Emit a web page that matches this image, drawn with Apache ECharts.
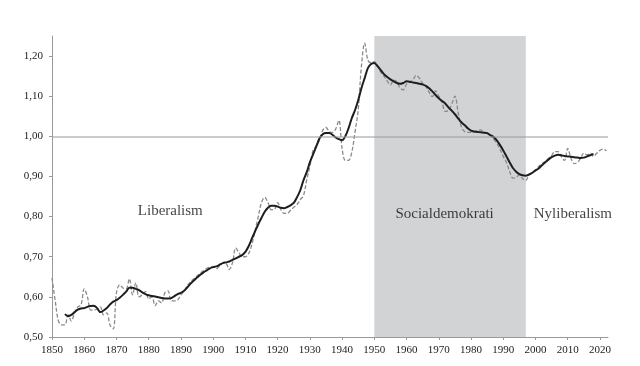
<!DOCTYPE html>
<html><head><meta charset="utf-8">
<script src="https://cdn.jsdelivr.net/npm/echarts@6/dist/echarts.min.js"></script>
<style>html,body{margin:0;padding:0;background:#fff}#c{width:640px;height:366px}</style>
</head><body><div id="c"></div>
<script>
const annualStart = 1850;
const annualValues = [
0.647,0.59,0.54,0.53,0.53,0.555,0.54,0.56,0.575,0.58,
0.62,0.60,0.567,0.567,0.57,0.575,0.555,0.56,0.53,0.52,
0.61,0.63,0.622,0.62,0.645,0.605,0.635,0.60,0.605,0.613,
0.595,0.60,0.578,0.59,0.585,0.61,0.615,0.59,0.59,0.592,
0.605,0.615,0.628,0.638,0.645,0.652,0.659,0.665,0.671,0.674,
0.675,0.67,0.677,0.684,0.683,0.668,0.685,0.722,0.71,0.70,
0.70,0.708,0.73,0.765,0.80,0.835,0.848,0.835,0.817,0.818,
0.835,0.818,0.808,0.808,0.816,0.823,0.83,0.842,0.852,0.89,
0.925,0.965,0.976,0.99,1.015,1.022,1.012,1.01,1.018,1.04,
0.97,0.94,0.94,0.96,1.01,1.066,1.175,1.232,1.19,1.183,
1.186,1.175,1.16,1.15,1.138,1.128,1.14,1.136,1.12,1.116,
1.13,1.135,1.141,1.152,1.145,1.132,1.124,1.11,1.099,1.113,
1.10,1.085,1.062,1.065,1.08,1.10,1.06,1.024,1.012,1.01,
1.01,1.012,1.014,1.016,1.01,1.008,1.002,0.993,0.983,0.968,
0.95,0.935,0.912,0.896,0.898,0.904,0.895,0.89,0.904,0.91,
0.916,0.925,0.932,0.937,0.945,0.952,0.962,0.962,0.95,0.94,
0.97,0.946,0.932,0.935,0.945,0.958,0.954,0.958,0.95,0.958,
0.965,0.968,0.964
];
const trendStart = 1854;
const trendValues = [
0.557,0.552,0.555,0.562,0.568,0.571,
0.572,0.575,0.577,0.578,0.572,0.562,0.566,0.572,0.581,0.588,
0.592,0.598,0.605,0.613,0.623,0.623,0.62,0.617,0.611,0.607,
0.604,0.602,0.601,0.599,0.597,0.596,0.596,0.597,0.602,0.607,
0.61,0.615,0.624,0.633,0.641,0.648,0.655,0.661,0.666,0.671,
0.674,0.676,0.68,0.684,0.686,0.688,0.692,0.696,0.7,0.704,
0.712,0.726,0.745,0.763,0.781,0.797,0.812,0.822,0.827,0.827,
0.825,0.822,0.821,0.824,0.828,0.834,0.848,0.865,0.89,0.91,
0.935,0.955,0.975,0.995,1.005,1.008,1.008,1.004,0.997,0.993,
0.99,1.0,1.02,1.045,1.065,1.09,1.12,1.145,1.17,1.18,
1.183,1.175,1.165,1.155,1.148,1.142,1.137,1.133,1.131,1.133,
1.137,1.136,1.134,1.133,1.131,1.129,1.126,1.12,1.112,1.103,
1.095,1.088,1.082,1.072,1.064,1.055,1.045,1.035,1.028,1.02,
1.014,1.012,1.011,1.01,1.009,1.008,1.003,0.998,0.99,0.978,
0.965,0.95,0.935,0.921,0.912,0.906,0.903,0.902,0.905,0.909,
0.915,0.92,0.928,0.935,0.942,0.948,0.952,0.954,0.953,0.951,
0.95,0.949,0.948,0.947,0.946,0.947,0.95,0.953,0.956
];
const eraNames = ['Liberalism', 'Socialdemokrati', 'Nyliberalism'];
const eraLabelAt = [[1886.7, 0.814], [1971.8, 0.807], [2011.6, 0.807]];
const shadedFrom = 1950, shadedTo = 1997;
const referenceLevel = 1.0;

const annualData = annualValues.map((v, i) => [annualStart + i, v]);
const trendData = trendValues.map((v, i) => [trendStart + i, v]);

const serif = 'Liberation Serif';
const chart = echarts.init(document.getElementById('c'), null, {renderer: 'canvas'});
chart.setOption({
  animation: false,
  backgroundColor: '#fff',
  grid: {left: 52, right: 32, top: 36, bottom: 29},
  xAxis: {
    type: 'value', min: 1850, max: 2022.5, interval: 10,
    axisLine: {lineStyle: {color: '#999', width: 1}},
    axisTick: {show: true, length: 3, lineStyle: {color: '#999'}},
    splitLine: {show: false},
    axisLabel: {
      fontFamily: serif, fontSize: 11, color: '#222', margin: 8,
      showMaxLabel: false,
      formatter: v => (v % 10 === 0 ? String(v) : '')
    }
  },
  yAxis: {
    type: 'value', min: 0.5, max: 1.25, interval: 0.1,
    axisLine: {show: true, lineStyle: {color: '#999', width: 1}},
    axisTick: {show: true, length: 3, lineStyle: {color: '#999'}},
    splitLine: {show: false},
    axisLabel: {
      fontFamily: serif, fontSize: 11, color: '#222', margin: 9,
      showMaxLabel: false,
      formatter: v => (Math.abs(v * 10 - Math.round(v * 10)) < 1e-6 ? v.toFixed(2).replace('.', ',') : '')
    }
  },
  series: [
    {
      type: 'line', data: annualData, showSymbol: false, smooth: 0.35, z: 3,
      lineStyle: {color: '#8a8a8a', width: 1.3, type: [4, 2]},
      markArea: {
        silent: true,
        itemStyle: {color: '#d2d3d5'},
        data: [[{xAxis: shadedFrom}, {xAxis: shadedTo}]]
      },
      markLine: {
        silent: true, symbol: 'none', label: {show: false},
        lineStyle: {color: 'rgba(160,160,160,0.55)', width: 2, type: 'solid'},
        data: [{yAxis: referenceLevel}]
      }
    },
    {
      type: 'line', data: trendData, showSymbol: false, smooth: 0.3, z: 4,
      lineStyle: {color: '#1e1e1e', width: 2}
    },
    {
      type: 'scatter', symbolSize: 0, silent: true, z: 5,
      data: eraLabelAt.map((p, i) => ({value: p, name: eraNames[i]})),
      label: {show: true, position: 'inside', formatter: p => p.name, fontFamily: serif, fontSize: 15, color: '#111'}
    }
  ]
});
</script></body></html>
